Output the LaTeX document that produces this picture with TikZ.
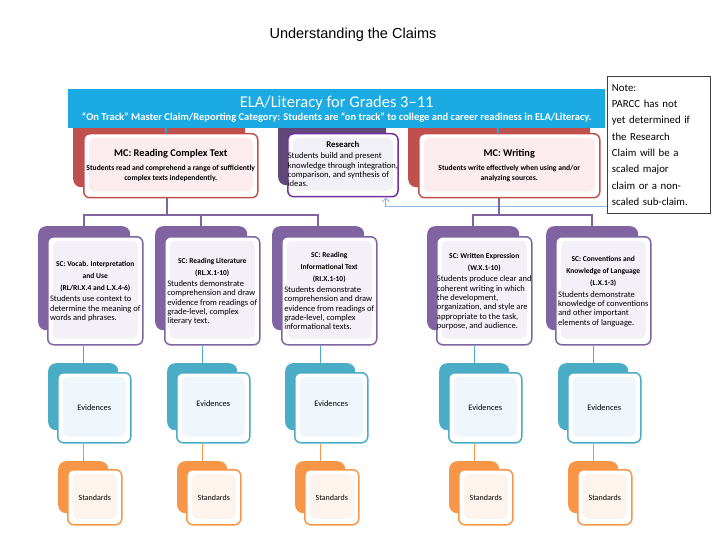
\documentclass[tikz,border=0pt]{standalone}
\usepackage{fontspec}
\setmainfont{Carlito}
\newfontfamily\arialfont{Liberation Sans}
\usepackage{tikz}
\usetikzlibrary{arrows.meta, positioning, calc}
\definecolor{bannerblue}{RGB}{27, 170, 225}
\definecolor{mcred}{RGB}{192, 80, 77}
\definecolor{mcpink}{RGB}{252, 236, 238}
\definecolor{resviolet}{RGB}{112, 48, 160}
\definecolor{resdark}{RGB}{96, 73, 122}
\definecolor{resfill}{RGB}{241, 240, 246}
\definecolor{scpurple}{RGB}{128, 100, 162}
\definecolor{sclav}{RGB}{244, 240, 248}
\definecolor{evblue}{RGB}{75, 172, 198}
\definecolor{evfill}{RGB}{240, 247, 252}
\definecolor{storange}{RGB}{247, 150, 70}
\definecolor{stfill}{RGB}{253, 244, 237}
\definecolor{noteblue}{RGB}{141, 180, 226}
\tikzset{
    shade/.style  ={fill=#1, draw=none, rounded corners=8pt,
                    anchor=north west, inner sep=0pt},
    card/.style   ={draw=#1, line width=1.5pt, fill=white, rounded corners=6pt,
                    anchor=north west, inner sep=0pt, align=center},
    panel/.style  ={path picture={\fill[#1]
                    ([shift={(5pt,-4pt)}]path picture bounding box.north west) rectangle
                    ([shift={(-5pt,6pt)}]path picture bounding box.south east);}},
    banner/.style ={fill=bannerblue, draw=none, anchor=north west, inner sep=0pt,
                    minimum width=537pt, minimum height=39pt, align=center, text=white},
    mccard/.style ={card=mcred, panel=mcpink, minimum height=64pt,
                    font=\bfseries\fontsize{7.6}{10}\selectfont},
    rescard/.style={card=resviolet, panel=resfill, minimum width=109pt, minimum height=63pt,
                    font=\fontsize{8.6}{9.4}\selectfont},
    sccard/.style ={card=scpurple, panel=sclav, minimum width=95pt, minimum height=108pt,
                    font=\fontsize{8.5}{9.4}\selectfont},
    evcard/.style ={card=evblue, panel=evfill, minimum width=73pt, minimum height=70pt,
                    font=\fontsize{8.4}{10}\selectfont},
    stcard/.style ={card=storange, panel=stfill, minimum width=54pt, minimum height=55pt,
                    font=\fontsize{8}{10}\selectfont},
    scshade/.style={shade=scpurple, minimum width=92pt, minimum height=104pt},
    evshade/.style={shade=evblue, minimum width=70pt, minimum height=67pt},
    stshade/.style={shade=storange, minimum width=50pt, minimum height=52pt},
    notebox/.style={draw=black!75, line width=0.8pt, fill=white, anchor=north west,
                    minimum width=103pt, minimum height=137pt, text width=94pt,
                    inner sep=4pt, align=left, font=\fontsize{10.8}{16.3}\selectfont},
    ttl/.style    ={font=\arialfont\fontsize{14.5}{17}\selectfont},
    purpline/.style={draw=scpurple, line width=1.8pt},
    evline/.style ={draw=evblue, line width=1.3pt},
    stline/.style ={draw=storange, line width=1.3pt},
    bnline/.style ={draw=bannerblue, line width=1.2pt},
    notear/.style ={draw=noteblue, line width=0.9pt,
                    -{Straight Barb[length=3.5pt, width=7pt]}}
}
\newcommand{\sctitle}[1]{{\bfseries\fontsize{7.5}{12}\selectfont
    \begin{tabular}{@{}c@{}}#1\end{tabular}}}
\newcommand{\cardtext}[1]{\begin{tabular}{@{}l@{}}#1\end{tabular}}

\begin{document}
\begin{tikzpicture}[x=1pt, y=-1pt]
  \useasboundingbox[fill=white] (0,0) rectangle (720,540);
  \node[ttl] (title) at (353,35) {Understanding the Claims};

  % shadows of the major claims (partly under the banner)
  \node[shade=mcred,   minimum width=172pt, minimum height=67pt] (rctB) at (73,120) {};
  \node[shade=resdark, minimum width=108pt, minimum height=65pt] (resB) at (278,120) {};
  \node[shade=mcred,   minimum width=182pt, minimum height=67pt] (wrtB) at (408,120) {};

  \node[banner] (banner) at (68,89)
       {{\fontsize{16.5}{19}\selectfont ELA/Literacy for Grades 3–11}\\[1pt]
        {\bfseries\fontsize{10.5}{11}\selectfont “On Track” Master Claim/Reporting Category:
         Students are “on track” to college and career readiness in ELA/Literacy.}};

  \node[mccard, minimum width=174pt] (rct) at (83,133)
       {{\fontsize{10.3}{12}\selectfont MC: Reading Complex Text}\\[4pt]
        Students read and comprehend a range of sufficiently\\ complex texts independently.};
  \node[rescard] (res) at (287,133)
       {{\bfseries\fontsize{8.8}{12}\selectfont Research}\\[4pt]
        \cardtext{Students build and present\\ knowledge through integration,\\
        comparison, and synthesis of\\ ideas.}};
  \node[mccard, minimum width=181pt] (wrt) at (418,133)
       {{\fontsize{10.3}{12}\selectfont MC: Writing}\\[4pt]
        Students write effectively when using and/or\\ analyzing sources.};

  \node[notebox] (note) at (607,76)
       {Note:\\ PARCC has not\\ yet determined if\\ the Research\\ Claim will be a\\
        scaled major\\ claim or a non-\\ scaled sub-claim.};

  \draw[bnline] (banner.south -| 166,0) -- (rct.north -| 166,0);
  \draw[bnline] (banner.south -| 498,0) -- (wrt.north -| 498,0);
  \draw[notear] ([yshift=7pt]note.south west) -| ([xshift=43pt]res.south);

  % sub-claims
  \node[scshade] (vocB) at (38,226) {};
  \node[scshade] (litB) at (155,226) {};
  \node[scshade] (infB) at (272,226) {};
  \node[scshade] (wexB) at (427,226) {};
  \node[scshade] (cnvB) at (546,226) {};

  \draw[purpline] ([xshift=-4pt]rct.south) -- ++(0,18);
  \draw[purpline] (vocB.north) -- ++(0,-11) -| (infB.north);
  \draw[purpline] (litB.north) -- ++(0,-11);
  \draw[purpline] ([xshift=-10.5pt]wrt.south) -- ++(0,18);
  \draw[purpline] (wexB.north) -- ++(0,-11) -| (cnvB.north);

  \node[sccard] (voc) at (47,236)
       {\sctitle{SC: Vocab. Interpretation\\ and Use\\ (RL/RI.X.4 and L.X.4-6)}\\
        \cardtext{Students use context to\\ determine the meaning of\\ words and phrases.}};
  \node[sccard] (lit) at (164,236)
       {\sctitle{SC: Reading Literature\\ (RL.X.1-10)}\\
        \cardtext{Students demonstrate\\ comprehension and draw\\ evidence from readings of\\
        grade-level, complex\\ literary text.}};
  \node[sccard] (inf) at (281,236)
       {\sctitle{SC: Reading\\ Informational Text\\ (RI.X.1-10)}\\
        \cardtext{Students demonstrate\\ comprehension and draw\\ evidence from readings of\\
        grade-level, complex\\ informational texts.}};
  \node[sccard] (wex) at (436,236)
       {\sctitle{SC: Written Expression\\ (W.X.1-10)}\\
        \cardtext{Students produce clear and\\ coherent writing in which\\ the development,\\
        organization, and style are\\ appropriate to the task,\\ purpose, and audience.}};
  \node[sccard] (cnv) at (555,236)
       {\sctitle{SC: Conventions and\\ Knowledge of Language\\ (L.X.1-3)}\\
        \cardtext{Students demonstrate\\ knowledge of conventions\\ and other important\\
        elements of language.}};

  % evidences
  \node[evshade] (ev1B) at (48,363) {};
  \node[evshade] (ev2B) at (167,363) {};
  \node[evshade] (ev3B) at (285,363) {};
  \node[evshade] (ev4B) at (439,363) {};
  \node[evshade] (ev5B) at (558,363) {};
  \draw[evline] (ev1B.north |- voc.south) -- (ev1B.north);
  \draw[evline] (ev2B.north |- lit.south) -- (ev2B.north);
  \draw[evline] (ev3B.north |- inf.south) -- (ev3B.north);
  \draw[evline] (ev4B.north |- wex.south) -- (ev4B.north);
  \draw[evline] (ev5B.north |- cnv.south) -- (ev5B.north);
  \node[evcard] (ev1) at (57,372)  {Evidences};
  \node[evcard] (ev2) at (176,372) {\raisebox{8pt}{Evidences}};
  \node[evcard] (ev3) at (294,372) {\raisebox{8pt}{Evidences}};
  \node[evcard] (ev4) at (448,372) {Evidences};
  \node[evcard] (ev5) at (567,372) {Evidences};

  % standards
  \node[stshade] (st1B) at (58,461) {};
  \node[stshade] (st2B) at (177,461) {};
  \node[stshade] (st3B) at (295,461) {};
  \node[stshade] (st4B) at (449,461) {};
  \node[stshade] (st5B) at (568,461) {};
  \draw[stline] (st1B.north |- ev1.south) -- (st1B.north);
  \draw[stline] (st2B.north |- ev2.south) -- (st2B.north);
  \draw[stline] (st3B.north |- ev3.south) -- (st3B.north);
  \draw[stline] (st4B.north |- ev4.south) -- (st4B.north);
  \draw[stline] (st5B.north |- ev5.south) -- (st5B.north);
  \node[stcard] (st1) at (67,469)  {Standards};
  \node[stcard] (st2) at (186,469) {Standards};
  \node[stcard] (st3) at (304,469) {Standards};
  \node[stcard] (st4) at (458,469) {Standards};
  \node[stcard] (st5) at (577,469) {Standards};
\end{tikzpicture}
\end{document}
